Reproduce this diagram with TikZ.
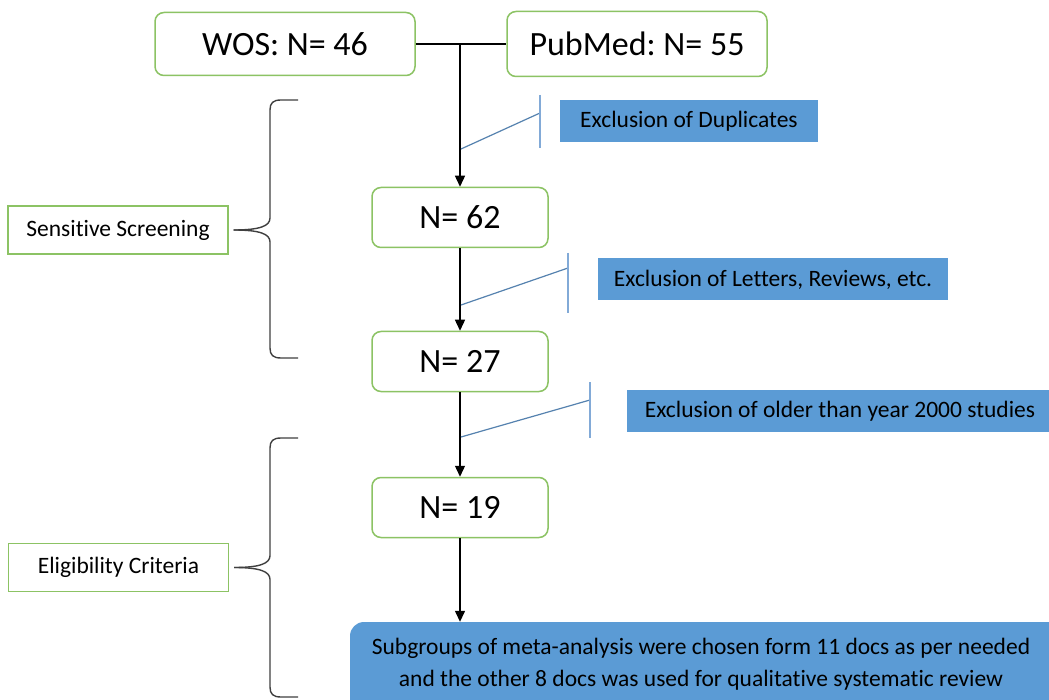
\documentclass[tikz,border=0pt]{standalone}
\usepackage{fontspec}
\setmainfont{Carlito}[Ligatures={NoCommon}]
\frenchspacing
\usetikzlibrary{arrows.meta}
\definecolor{boxgreen}{RGB}{140,195,100}
\definecolor{exblue}{RGB}{91,155,213}
\definecolor{callline}{RGB}{85,130,175}
\definecolor{callbar}{RGB}{130,170,215}
\begin{document}
\frenchspacing
\begin{tikzpicture}[x=1pt,y=-1pt,
 big/.style={draw=boxgreen,line width=1.5pt,rounded corners=9pt,fill=white,minimum width=176pt,minimum height=60pt,font=\fontsize{34}{40}\selectfont},
 lab/.style={draw=boxgreen,line width=1.3pt,fill=white,minimum width=220pt,minimum height=48pt,font=\fontsize{23.5}{28}\selectfont},
 excl/.style={fill=exblue,minimum height=42pt,font=\fontsize{23.5}{28}\selectfont,inner sep=0pt},
 arr/.style={line width=1.3pt,-{Triangle[length=11pt,width=10pt]}},
 conn/.style={line width=1.3pt},
 call/.style={draw=callline,line width=1.2pt},
 bar/.style={draw=callbar,line width=1.2pt},
 brc/.style={draw=black!75,line width=1.4pt}]
\clip (0,0) rectangle (1049,700);
\fill[white] (0,0) rectangle (1049,700);
% main boxes
\node[big,minimum width=260pt,minimum height=63pt] (wos) at (285,44) {WOS: N= 46};
\node[big,minimum width=260pt,minimum height=65pt] (pub) at (637,44) {PubMed: N= 55};
\node[big] (n62) at (460,217.5) {N= 62};
\node[big] (n27) at (460,361.5) {N= 27};
\node[big] (n19) at (460,507.5) {N= 19};
% exclusion boxes
\node[excl,minimum width=258pt] (ex1) at (689,121) {Exclusion of Duplicates};
\node[excl,minimum width=350pt] (ex2) at (773,279.5) {Exclusion of Letters, Reviews, etc.};
\node[excl,minimum width=426pt] (ex3) at (840,411) {Exclusion of older than year 2000 studies};
% side labels
\node[lab] (ss) at (118,230) {Sensitive Screening};
\node[lab] (ec) at (118.5,567.5) {Eligibility Criteria};
% final box
\node[fill=exblue,rounded corners=14pt,minimum width=760pt,minimum height=110pt] (fin) at (730,677) {};
\node[font=\fontsize{23.5}{32}\selectfont,align=center] (fintext) at (701,664) {Subgroups of meta-analysis were chosen form 11 docs as per needed\\and the other 8 docs was used for qualitative systematic review};
% connectors
\draw[conn] (wos.east) -- (pub.west);
\draw[arr] (wos.east -| n62.north) -- (n62.north);
\draw[arr] (n62.south) -- (n27.north);
\draw[arr] (n27.south) -- (n19.north);
\draw[arr] (n19.south) -- (n19.south |- fin.north);
% callouts
\coordinate (c1a) at (461,149); \coordinate (c1b) at (540,113);
\coordinate (b1t) at (540,95); \coordinate (b1b) at (540,148);
\coordinate (c2a) at (461,305); \coordinate (c2b) at (568,268);
\coordinate (b2t) at (568,253); \coordinate (b2b) at (568,313);
\coordinate (c3a) at (461,437); \coordinate (c3b) at (590,400);
\coordinate (b3t) at (590,382); \coordinate (b3b) at (590,438);
\draw[call] (c1a) -- (c1b);
\draw[bar] (b1t) -- (b1b);
\draw[call] (c2a) -- (c2b);
\draw[bar] (b2t) -- (b2b);
\draw[call] (c3a) -- (c3b);
\draw[bar] (b3t) -- (b3b);
% braces
\draw[brc] ([xshift=5pt]ss.east) .. controls (260,230) and (270,226) .. (270,218) -- (270,110) .. controls (270,103) and (273,100) .. (281,100) -- (298,100);
\draw[brc] ([xshift=5pt]ss.east) .. controls (260,230) and (270,234) .. (270,242) -- (270,348) .. controls (270,355) and (273,358) .. (281,358) -- (298,358);
\draw[brc] ([xshift=5pt]ec.east) .. controls (260,567.5) and (270,563.5) .. (270,555.5) -- (270,448) .. controls (270,441) and (273,438) .. (281,438) -- (298,438);
\draw[brc] ([xshift=5pt]ec.east) .. controls (260,567.5) and (270,571.5) .. (270,579.5) -- (270,687) .. controls (270,694) and (273,697) .. (281,697) -- (298,697);
\end{tikzpicture}
\end{document}
